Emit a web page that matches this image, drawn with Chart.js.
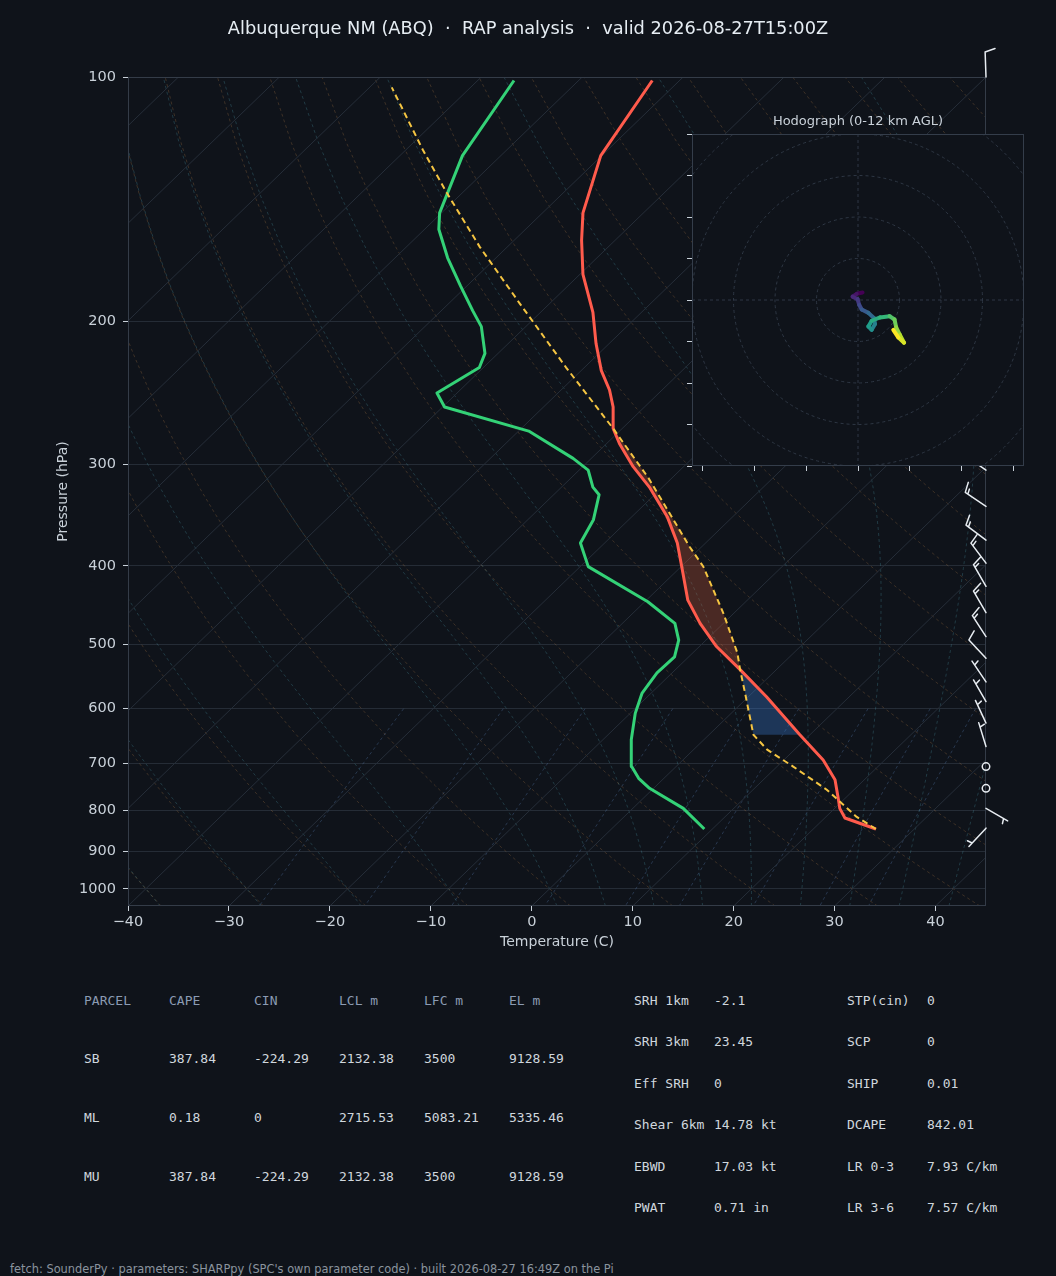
<!DOCTYPE html>
<html>
<head>
<meta charset="utf-8">
<title>Skew-T ABQ</title>
<script src="https://cdn.jsdelivr.net/npm/chart.js@4.4.1/dist/chart.umd.min.js"></script>
<style>
  html, body { margin:0; padding:0; background:#0f131a; }
  body { width:1056px; height:1276px; position:relative; overflow:hidden; font-family:"DejaVu Sans", sans-serif; }
  canvas { position:absolute; display:block; }
  #main { left:0; top:0; }
  #hodo { left:687px; top:132px; }
  .t { position:absolute; white-space:pre; line-height:1; }
  #title { left:0; width:1056px; top:18.5px; text-align:center; font-size:17.8px; color:#e6edf3; }
  #htitle { left:692px; width:332px; top:114px; text-align:center; font-size:13px; color:#c9d1d9; }
  .m { font-family:"DejaVu Sans Mono", monospace; font-size:13px; }
  .hdr { color:#8b9bb3; }
  .val { color:#d0d7de; }
  #foot { left:10px; top:1263.5px; font-size:11.4px; color:#8b949e; }
</style>
</head>
<body>
<canvas id="main" width="1056" height="970"></canvas>
<canvas id="hodo" width="339" height="339"></canvas>
<div id="title" class="t">Albuquerque NM (ABQ)  ·  RAP analysis  ·  valid 2026-08-27T15:00Z</div>
<div id="htitle" class="t">Hodograph (0-12 km AGL)</div>
<div id="tables"></div>
<div id="foot" class="t">fetch: SounderPy · parameters: SHARPpy (SPC's own parameter code) · built 2026-08-27 16:49Z on the Pi</div>
<script>
// ================= DATA =================
// Environmental temperature profile (hPa, degC)
const tempP = [844, 818, 796, 777, 734, 694, 646, 580, 537, 503, 471, 441, 409, 375, 348, 320, 302, 283, 271, 255, 243, 230, 213, 195, 175, 159, 147, 125, 101];
const tempT = [26.2, 22.0, 20.5, 19.5, 17.1, 13.9, 9.0, 1.8, -3.6, -8.3, -12.3, -15.9, -19.1, -22.8, -26.5, -31.3, -35.0, -38.7, -40.9, -43.1, -45.2, -48.0, -51.3, -54.8, -59.7, -63.3, -66.0, -70.1, -72.7];
// Dewpoint profile
const dewP = [844, 796, 752, 731, 707, 655, 608, 574, 542, 518, 494, 471, 443, 401, 375, 351, 327, 320, 305, 295, 273, 255, 245, 228, 219, 203, 194, 181, 167, 154, 147, 125, 101];
const dewT = [9.2, 5.0, -0.4, -2.5, -4.4, -7.2, -9.5, -10.9, -11.5, -11.4, -12.7, -14.8, -19.7, -29.2, -32.4, -33.5, -35.5, -36.9, -39.1, -41.8, -49.0, -59.8, -62.0, -60.4, -61.3, -64.4, -66.9, -70.6, -74.8, -78.6, -80.2, -83.8, -86.4];
// Surface-based parcel path
const parcP = [844, 815, 755, 707, 674, 646, 574, 537, 512, 458, 401, 379, 312, 271, 228, 190, 162, 139, 123, 103];
const parcT = [26.2, 23.0, 17.3, 11.6, 7.3, 4.4, -0.7, -3.6, -5.6, -11.0, -17.8, -21.2, -32.3, -40.9, -51.8, -63.0, -72.7, -81.5, -88.3, -97.8];
// Parcel levels used for shading (hPa)
const LCL_P = 646, LFC_P = 537, EL_P = 271;
// Wind barbs (hPa, direction deg, speed kt)
const barbP   = [100, 305, 338, 372, 397, 424, 457, 489, 520, 556, 588, 625, 668, 707, 752, 796, 842];
const barbDir = [358, 305, 304, 307, 323, 330, 330, 327, 317, 326, 330, 335, 343,   0,   0, 120, 223];
const barbSpd = [ 10,  20,  15,  15,  15,  15,  15,  15,  10,   5,   5,   5,   5,   0,   0,   5,   5];
// Hodograph trace (kt), 0-12 km
const hodoU = [1.1, -0.3, -1.3, -0.1, 0.3, 0.9, 2.5, 3.9, 4.1, 3.3, 2.5, 3.3, 5.3, 7.6, 8.8, 9.2, 10.1, 11.1, 9.7, 8.5];
const hodoV = [1.8, 1.5, 0.8, 0.2, -1.2, -2.3, -3.1, -4.4, -5.8, -7.2, -6.4, -5.0, -4.2, -3.9, -4.7, -6.6, -8.4, -10.3, -9.0, -7.2];
// Axis ticks
const xTicks = [-40, -30, -20, -10, 0, 10, 20, 30, 40];
const yTicks = [100, 200, 300, 400, 500, 600, 700, 800, 900, 1000];
const hodoXTicks = [-37.5, -25, -12.5, 0, 12.5, 25, 37.5];
const hodoYTicks = [-40, -30, -20, -10, 0, 10, 20, 30, 40];
const hodoRings = [10, 20, 30, 40, 50];
// Background reference lines
const isotherms = [-120, -110, -100, -90, -80, -70, -60, -50, -40, -30, -20, -10, 0, 10, 20, 30, 40];
const dryT0 = [-40, -30, -20, -10, 0, 10, 20, 30, 40, 50, 60, 70, 80, 90, 100, 110, 120, 130, 140, 150, 160, 170, 180, 190, 200];
const moistT0 = [-40, -30, -20, -10, 0, 5, 10, 15, 20, 25, 30, 35, 40, 45];
const mixW = [0.4, 1, 2, 4, 7, 10, 16, 24, 32];
// Tables
const parcelHead = ['PARCEL', 'CAPE', 'CIN', 'LCL m', 'LFC m', 'EL m'];
const parcelRows = [
  ['SB', '387.84', '-224.29', '2132.38', '3500', '9128.59'],
  ['ML', '0.18', '0', '2715.53', '5083.21', '5335.46'],
  ['MU', '387.84', '-224.29', '2132.38', '3500', '9128.59']
];
const idxLeft = [['SRH 1km', '-2.1'], ['SRH 3km', '23.45'], ['Eff SRH', '0'], ['Shear 6km', '14.78 kt'], ['EBWD', '17.03 kt'], ['PWAT', '0.71 in']];
const idxRight = [['STP(cin)', '0'], ['SCP', '0'], ['SHIP', '0.01'], ['DCAPE', '842.01'], ['LR 0-3', '7.93 C/km'], ['LR 3-6', '7.57 C/km']];

// ================= SETUP =================
const BG = '#0f131a';
const TXT = '#c9d1d9';
const P_BOT = 1050, P_TOP = 100, T_MIN = -40, T_MAX = 45;
Chart.defaults.font.family = '"DejaVu Sans", sans-serif';
Chart.defaults.color = TXT;

// skew: temperature offset grows linearly with log(p) (45 deg in axes space)
const skew = p => (T_MAX - T_MIN) * Math.log(P_BOT / p) / Math.log(P_BOT / P_TOP);
const pt = (T, p) => ({ x: T + skew(p), y: p });

// Pressure levels for curved reference lines
const PLEV = [];
for (let i = 0; i <= 47; i++) PLEV.push(P_BOT - i * (P_BOT - P_TOP) / 47);
const PMIX = [];
for (let i = 0; i <= 12; i++) PMIX.push(600 + i * (P_BOT - 600) / 12);

const KAPPA = 0.28571;
function moistGrad(p, T) {
  const es = 6.112 * Math.exp(17.67 * (T - 273.15) / (T - 29.65));
  const rs = 0.622 * es / (p - es);
  const Rd = 287.047, Cp = 1004.67, Lv = 2.501e6, eps = 0.622;
  return (1 / p) * (Rd * T + Lv * rs) / (Cp + (Lv * Lv * rs * eps) / (Rd * T * T));
}
function moistT(T0C, p1) {
  let T = T0C + 273.15, p = 1000;
  const n = Math.max(1, Math.ceil(Math.abs(p1 - p) / 5));
  const h = (p1 - p) / n;
  for (let i = 0; i < n; i++) {
    const k1 = moistGrad(p, T);
    const k2 = moistGrad(p + h / 2, T + h / 2 * k1);
    const k3 = moistGrad(p + h / 2, T + h / 2 * k2);
    const k4 = moistGrad(p + h, T + h * k3);
    T += h / 6 * (k1 + 2 * k2 + 2 * k3 + k4);
    p += h;
  }
  return T - 273.15;
}
function mixTd(wgkg, p) {
  const w = wgkg / 1000;
  const e = p * w / (0.622 + w);
  const a = Math.log(e / 6.112);
  return 243.5 * a / (17.67 - a);
}

const bgBase = { pointRadius: 0, borderWidth: 1, fill: false, tension: 0, order: 10 };
const datasets = [];
isotherms.forEach(t => datasets.push(Object.assign({}, bgBase, {
  label: 'iso', data: [pt(t, P_BOT), pt(t, P_TOP)], borderColor: '#262e39'
})));
dryT0.forEach(t => datasets.push(Object.assign({}, bgBase, {
  label: 'dry', data: PLEV.map(p => pt((t + 273.15) * Math.pow(p / 1000, KAPPA) - 273.15, p)),
  borderColor: 'rgba(170,120,70,0.30)', borderDash: [3, 3]
})));
moistT0.forEach(t => datasets.push(Object.assign({}, bgBase, {
  label: 'moist', data: PLEV.map(p => pt(moistT(t, p), p)),
  borderColor: 'rgba(70,140,155,0.33)', borderDash: [3, 3]
})));
mixW.forEach(w => datasets.push(Object.assign({}, bgBase, {
  label: 'mix', data: PMIX.map(p => pt(mixTd(w, p), p)),
  borderColor: 'rgba(90,130,185,0.33)', borderDash: [3, 3]
})));
datasets.push({ label: 'Dewpoint', data: dewP.map((p, i) => pt(dewT[i], p)), borderColor: '#34d277', borderWidth: 3, pointRadius: 0, fill: false, tension: 0, order: 3, borderJoinStyle: 'round' });
datasets.push({ label: 'Temperature', data: tempP.map((p, i) => pt(tempT[i], p)), borderColor: '#ff5b4c', borderWidth: 3, pointRadius: 0, fill: false, tension: 0, order: 2, borderJoinStyle: 'round' });
datasets.push({ label: 'Parcel', data: parcP.map((p, i) => pt(parcT[i], p)), borderColor: '#f5c542', borderWidth: 2, borderDash: [6, 4], pointRadius: 0, fill: false, tension: 0, order: 1 });

// Shaded CAPE / CIN polygons from the profile arrays
function region(pLow, pHigh) {
  const a = [], b = [];
  parcP.forEach((p, i) => { if (p <= pHigh && p >= pLow) a.push(pt(parcT[i], p)); });
  tempP.forEach((p, i) => { if (p <= pHigh && p >= pLow) b.push(pt(tempT[i], p)); });
  return a.concat(b.reverse());
}
const capePoly = region(EL_P, LFC_P);
const cinPoly = region(LFC_P, LCL_P);

function drawPoly(chart, poly, color) {
  const { ctx, chartArea: a, scales: { x, y } } = chart;
  ctx.save();
  ctx.beginPath(); ctx.rect(a.left, a.top, a.width, a.height); ctx.clip();
  ctx.beginPath();
  poly.forEach((q, i) => {
    const px = x.getPixelForValue(q.x), py = y.getPixelForValue(q.y);
    if (i) ctx.lineTo(px, py); else ctx.moveTo(px, py);
  });
  ctx.closePath();
  ctx.fillStyle = color; ctx.fill();
  ctx.restore();
}

function drawBarb(ctx, x, y, dir, spd) {
  const L = 25, sp = 0.125 * L, h = 0.4 * L, w = 0.25 * L, r = 0.15 * L;
  let mag = 5 * Math.round(spd / 5);
  ctx.beginPath();
  if (mag < 5) { ctx.arc(x, y, r, 0, 2 * Math.PI); ctx.stroke(); return; }
  const d = dir * Math.PI / 180;
  const sx = Math.sin(d), sy = -Math.cos(d);
  const bx = Math.cos(d), by = Math.sin(d);
  const P = (t, hh) => [x + sx * t + bx * hh, y + sy * t + by * hh];
  ctx.moveTo(x, y); ctx.lineTo(x + sx * L, y + sy * L);
  const nflag = Math.floor(mag / 50); mag -= nflag * 50;
  const nb = Math.floor(mag / 10); mag -= nb * 10;
  const half = mag >= 5;
  let off = L;
  for (let i = 0; i < nflag; i++) {
    const a = P(off, 0), b = P(off - w / 2, h), c = P(off - w, 0);
    ctx.moveTo(a[0], a[1]); ctx.lineTo(b[0], b[1]); ctx.lineTo(c[0], c[1]);
    off -= w + sp;
  }
  for (let i = 0; i < nb; i++) {
    const a = P(off, 0), b = P(off + w / 2, h);
    ctx.moveTo(a[0], a[1]); ctx.lineTo(b[0], b[1]);
    off -= sp;
  }
  if (half) {
    if (off === L) off -= 1.5 * sp;
    const a = P(off, 0), b = P(off + w / 4, h / 2);
    ctx.moveTo(a[0], a[1]); ctx.lineTo(b[0], b[1]);
  }
  ctx.stroke();
}

const skewPlugin = {
  id: 'skewExtras',
  beforeDatasetDraw(chart, args) {
    if (chart.data.datasets[args.index].label !== 'Dewpoint') return;
    drawPoly(chart, capePoly, 'rgba(200,90,60,0.32)');
    drawPoly(chart, cinPoly, 'rgba(60,130,220,0.32)');
  },
  afterDatasetsDraw(chart) {
    const { ctx, chartArea: a, scales: { y } } = chart;
    ctx.save();
    ctx.strokeStyle = '#343c48'; ctx.lineWidth = 1; ctx.setLineDash([]);
    ctx.strokeRect(a.left + 0.5, a.top + 0.5, a.width - 1, a.height - 1);
    ctx.strokeStyle = '#e8edf2'; ctx.lineWidth = 1.5; ctx.lineCap = 'round';
    barbP.forEach((p, i) => drawBarb(ctx, a.right, y.getPixelForValue(p), barbDir[i], barbSpd[i]));
    ctx.restore();
  }
};

const fmtT = v => (v < 0 ? '\u2212' + Math.abs(v) : String(v));

new Chart(document.getElementById('main'), {
  type: 'line',
  data: { datasets },
  options: {
    responsive: false, animation: false, events: [],
    layout: { padding: { left: 51, top: 77, right: 70, bottom: 15 } },
    plugins: { legend: { display: false }, tooltip: { enabled: false } },
    scales: {
      x: {
        type: 'linear', position: 'bottom', min: T_MIN, max: T_MAX, bounds: 'data',
        afterBuildTicks: s => { s.ticks = xTicks.map(v => ({ value: v })); },
        afterFit: s => { s.height = 49; },
        ticks: { color: TXT, font: { size: 14.5 }, padding: 3, autoSkip: false, maxRotation: 0, callback: v => fmtT(v) },
        grid: { drawOnChartArea: false, drawTicks: true, tickLength: 5, tickColor: TXT },
        border: { display: false },
        title: { display: true, text: 'Temperature (C)', color: TXT, font: { size: 14 } }
      },
      y: {
        type: 'logarithmic', position: 'left', min: P_TOP, max: P_BOT, reverse: true, bounds: 'data',
        afterBuildTicks: s => { s.ticks = yTicks.map(v => ({ value: v })); },
        afterFit: s => { s.width = 77; },
        ticks: { color: TXT, font: { size: 14.5 }, padding: 7, autoSkip: false, callback: v => String(v) },
        grid: { color: '#252c36', lineWidth: 1, drawTicks: true, tickLength: 5, tickColor: TXT },
        border: { display: false },
        title: { display: true, text: 'Pressure (hPa)', color: TXT, font: { size: 14 } }
      }
    }
  },
  plugins: [skewPlugin]
});

// ================= HODOGRAPH =================
const viridisStops = ['#440154', '#482878', '#3e4989', '#31688e', '#26828e', '#1f9e89', '#35b779', '#6ece58', '#b5de2b', '#fde725'];
function hexRGB(h) { return [parseInt(h.substr(1, 2), 16), parseInt(h.substr(3, 2), 16), parseInt(h.substr(5, 2), 16)]; }
function viridis(t) {
  t = Math.max(0, Math.min(1, t));
  const n = viridisStops.length - 1;
  const i = Math.min(n - 1, Math.floor(t * n));
  const f = t * n - i;
  const a = hexRGB(viridisStops[i]), b = hexRGB(viridisStops[i + 1]);
  return 'rgb(' + a.map((c, k) => Math.round(c + (b[k] - c) * f)).join(',') + ')';
}
const nH = hodoU.length;
const hodoPlugin = {
  id: 'hodoExtras',
  beforeDatasetsDraw(chart) {
    const { ctx, chartArea: a, scales: { x, y } } = chart;
    ctx.save();
    ctx.fillStyle = BG; ctx.fillRect(a.left, a.top, a.width, a.height);
    ctx.beginPath(); ctx.rect(a.left, a.top, a.width, a.height); ctx.clip();
    ctx.strokeStyle = '#2e3744'; ctx.lineWidth = 1; ctx.setLineDash([3, 3]);
    const cx = x.getPixelForValue(0), cy = y.getPixelForValue(0);
    hodoRings.forEach(r => {
      const rp = x.getPixelForValue(r) - cx;
      ctx.beginPath(); ctx.arc(cx, cy, rp, 0, 2 * Math.PI); ctx.stroke();
    });
    ctx.beginPath();
    ctx.moveTo(cx, a.top); ctx.lineTo(cx, a.bottom);
    ctx.moveTo(a.left, cy); ctx.lineTo(a.right, cy);
    ctx.stroke();
    ctx.restore();
  },
  afterDraw(chart) {
    const { ctx, chartArea: a } = chart;
    ctx.save();
    ctx.strokeStyle = '#343d4a'; ctx.lineWidth = 1;
    ctx.strokeRect(a.left + 0.5, a.top + 0.5, a.width - 1, a.height - 1);
    ctx.restore();
  }
};
new Chart(document.getElementById('hodo'), {
  type: 'line',
  data: {
    datasets: [{
      label: 'Hodograph',
      data: hodoU.map((u, i) => ({ x: u, y: hodoV[i] })),
      borderWidth: 4, pointRadius: 0, fill: false, tension: 0,
      borderCapStyle: 'round', borderJoinStyle: 'round',
      borderColor: viridis(0.5),
      segment: { borderColor: c => viridis(c.p0DataIndex / (nH - 2)) }
    }]
  },
  options: {
    responsive: false, animation: false, events: [],
    layout: { padding: { left: 0, top: 2, right: 2, bottom: 0 }, autoPadding: false },
    plugins: { legend: { display: false }, tooltip: { enabled: false } },
    scales: {
      x: {
        type: 'linear', min: -40, max: 40, bounds: 'data',
        afterBuildTicks: s => { s.ticks = hodoXTicks.map(v => ({ value: v })); },
        afterFit: s => { s.height = 5; },
        ticks: { display: false },
        grid: { drawOnChartArea: false, drawTicks: true, tickLength: 5, tickColor: TXT },
        border: { display: false }
      },
      y: {
        type: 'linear', min: -40, max: 40, bounds: 'data',
        afterBuildTicks: s => { s.ticks = hodoYTicks.map(v => ({ value: v })); },
        afterFit: s => { s.width = 5; },
        ticks: { display: false },
        grid: { drawOnChartArea: false, drawTicks: true, tickLength: 5, tickColor: TXT },
        border: { display: false }
      }
    }
  },
  plugins: [hodoPlugin]
});

// ================= TABLES =================
(function () {
  const host = document.getElementById('tables');
  function txt(s, x, yc, cls) {
    const d = document.createElement('div');
    d.className = 't m ' + cls;
    d.textContent = s;
    d.style.left = x + 'px';
    d.style.top = (yc - 6.5) + 'px';
    host.appendChild(d);
  }
  parcelHead.forEach((h, j) => txt(h, 84 + 85 * j, 1000, 'hdr'));
  parcelRows.forEach((row, i) => row.forEach((v, j) => txt(v, 84 + 85 * j, 1058.7 + 58.7 * i, 'val')));
  idxLeft.forEach((r, i) => { txt(r[0], 634, 1000 + 41.55 * i, 'val'); txt(r[1], 714, 1000 + 41.55 * i, 'val'); });
  idxRight.forEach((r, i) => { txt(r[0], 847, 1000 + 41.55 * i, 'val'); txt(r[1], 927, 1000 + 41.55 * i, 'val'); });
})();
</script>
</body>
</html>
